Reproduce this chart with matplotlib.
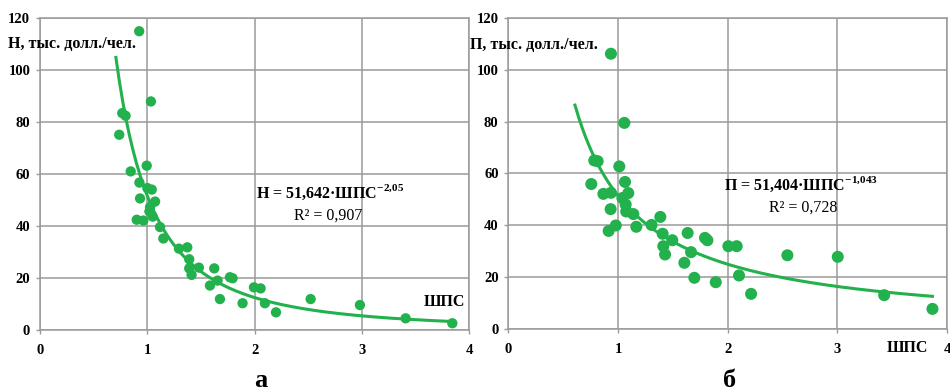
import matplotlib
matplotlib.use("Agg")
import matplotlib.pyplot as plt
import numpy as np

plt.rcParams['font.family'] = ['Liberation Serif', 'DejaVu Serif']
plt.rcParams['mathtext.fontset'] = 'custom'
plt.rcParams['mathtext.rm'] = 'Liberation Serif'
plt.rcParams['mathtext.bf'] = 'Liberation Serif:bold'

# --- data ---
# panel а : Н vs ШПС
x_a = [0.925, 1.034, 0.767, 0.798, 0.739, 0.846, 0.995, 0.927, 1.001, 1.042,
       0.933, 1.073, 1.026, 1.020, 1.051, 0.902, 0.964, 1.119, 1.150, 1.295,
       1.373, 1.391, 1.391, 1.413, 1.481, 1.624, 1.584, 1.655, 1.677, 1.770,
       1.795, 1.888, 1.994, 2.056, 2.096, 2.199, 2.522, 2.981, 3.407, 3.842]
y_a = [114.9, 87.9, 83.4, 82.4, 75.1, 61.0, 63.2, 56.7, 54.6, 54.0,
       50.6, 49.4, 47.3, 45.6, 43.6, 42.4, 42.1, 39.6, 35.2, 31.3,
       31.8, 27.2, 23.7, 21.2, 24.0, 23.7, 17.1, 19.0, 11.9, 20.3,
       19.9, 10.3, 16.4, 16.0, 10.3, 6.8, 11.9, 9.6, 4.5, 2.6]

# panel б : П vs ШПС
x_b = [0.936, 1.058, 0.784, 0.815, 0.757, 1.012, 0.867, 0.936, 1.064, 1.094,
       1.040, 1.070, 0.933, 1.075, 1.140, 0.980, 0.915, 1.167, 1.306, 1.386,
       1.407, 1.413, 1.429, 1.495, 1.635, 1.666, 1.605, 1.696, 1.793, 1.815,
       1.891, 2.006, 2.082, 2.103, 2.213, 2.544, 3.003, 3.426, 3.866]
y_b = [106.2, 79.5, 65.0, 64.7, 55.9, 62.7, 52.1, 52.5, 56.7, 52.4,
       50.5, 48.0, 46.2, 45.3, 44.3, 39.9, 37.8, 39.4, 40.1, 43.2,
       36.7, 31.9, 28.7, 34.2, 37.0, 29.6, 25.5, 19.7, 35.1, 34.2,
       18.0, 31.9, 31.9, 20.6, 13.5, 28.4, 27.8, 13.0, 7.7]

# power trend lines as printed on the chart
coef_a, pow_a = 51.642, -2.05
coef_b, pow_b = 51.404, -1.043
fit_range_a = (0.708, 3.85)
fit_range_b = (0.608, 3.866)

GREEN = '#22b14c'
GRID = '#9a9a9a'

fig = plt.figure(figsize=(9.5, 3.91), dpi=100)
ax_a = fig.add_axes([0.042, 0.156, 0.452, 0.798])
ax_b = fig.add_axes([0.535, 0.159, 0.462, 0.795])


def style_axes(ax):
    ax.set_xlim(0, 4)
    ax.set_ylim(0, 120)
    ax.set_xticks([0, 1, 2, 3, 4])
    ax.set_yticks([0, 20, 40, 60, 80, 100, 120])
    ax.grid(True, color=GRID, linewidth=1.1)
    ax.set_axisbelow(True)
    for s in ax.spines.values():
        s.set_color(GRID)
        s.set_linewidth(1.1)
    ax.tick_params(direction='out', length=3, color=GRID, width=1,
                   labelsize=10.5, pad=4)
    for lab in ax.get_xticklabels() + ax.get_yticklabels():
        lab.set_fontweight('bold')
    ax.tick_params(axis='x', pad=7)


# --- panel а ---
style_axes(ax_a)
ax_a.scatter(x_a, y_a, s=55, color=GREEN, edgecolors='none', zorder=3)
xf = np.linspace(*fit_range_a, 200)
ax_a.plot(xf, coef_a * xf ** pow_a, color=GREEN, lw=2.2, zorder=2)
ax_a.text(-0.30, 110, 'Н, тыс. долл./чел.', fontsize=11.5, fontweight='bold',
          ha='left', va='center', clip_on=False)
ax_a.text(2.015, 52.8, 'Н = 51,642·ШПС$^{\\mathbf{-2{,}05}}$', fontsize=11.5,
          fontweight='bold', ha='left', va='center')
ax_a.text(3.0, 44, 'R² = 0,907', fontsize=11.5, ha='right', va='center')
ax_a.text(3.96, 10.8, 'ШПС', fontsize=11.5, fontweight='bold', ha='right',
          va='center')
fig.text(0.274, 0.028, 'а', fontsize=19, fontweight='bold', ha='center',
         va='center')

# --- panel б ---
style_axes(ax_b)
ax_b.scatter(x_b, y_b, s=75, color=GREEN, edgecolors='none', zorder=3)
xf = np.linspace(*fit_range_b, 200)
ax_b.plot(xf, coef_b * xf ** pow_b, color=GREEN, lw=2.2, zorder=2)
ax_b.text(-0.345, 109.5, 'П, тыс. долл./чел.', fontsize=11.5, fontweight='bold',
          ha='left', va='center', clip_on=False)
ax_b.text(1.97, 55.9, 'П = 51,404·ШПС$^{\\mathbf{-1{,}043}}$', fontsize=11.5,
          fontweight='bold', ha='left', va='center')
ax_b.text(3.0, 46.7, 'R² = 0,728', fontsize=11.5, ha='right', va='center')
ax_b.text(3.45, -7.3, 'ШПС', fontsize=11.5, fontweight='bold', ha='left',
          va='center', clip_on=False)
fig.text(0.768, 0.028, 'б', fontsize=19, fontweight='bold', ha='center',
         va='center')

fig.savefig('out.png', dpi=100)
